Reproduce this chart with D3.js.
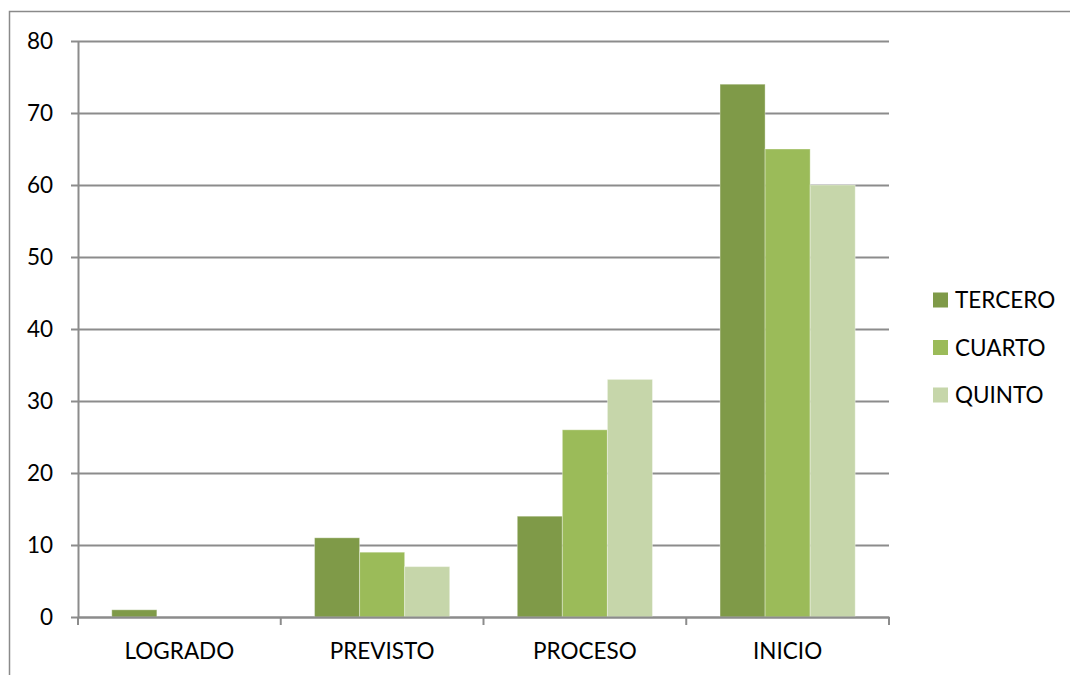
<!DOCTYPE html>
<html>
<head>
<meta charset="utf-8">
<script src="https://cdn.jsdelivr.net/npm/d3@7/dist/d3.min.js"></script>
<style>
  html, body { margin: 0; padding: 0; background: #fff; }
  svg { display: block; }
  text { font-family: Lato, "Liberation Sans", sans-serif; fill: #000; }
</style>
</head>
<body>
<svg id="chart" width="1070" height="675"></svg>
<script>
// Categories, series and ticks
const categories = ["LOGRADO", "PREVISTO", "PROCESO", "INICIO"];
const seriesNames = ["TERCERO", "CUARTO", "QUINTO"];
const tercero = [1, 11, 14, 74];
const cuarto = [0, 9, 26, 65];
const quinto = [0, 7, 33, 60];
const yTicks = [0, 10, 20, 30, 40, 50, 60, 70, 80];
const colors = ["#7F9A48", "#9BBB59", "#C6D6AA"];

const seriesValues = [tercero, cuarto, quinto];
const rows = categories.map((c, i) => ({
  category: c,
  values: seriesNames.map((s, j) => ({ series: s, value: seriesValues[j][i] }))
}));

const svg = d3.select("#chart");
const margin = { left: 78, right: 181, top: 41, bottom: 58 };
const W = 1070, H = 675;
const plotW = W - margin.left - margin.right;
const plotH = H - margin.top - margin.bottom;

// Outer chart frame (extends past the right and bottom edges)
svg.append("rect")
  .attr("x", 9.5).attr("y", 11.5)
  .attr("width", 1100).attr("height", 700)
  .attr("fill", "none").attr("stroke", "#8a8a8a").attr("stroke-width", 1.5);

const g = svg.append("g").attr("transform", `translate(${margin.left},${margin.top})`);

const x0 = d3.scaleBand().domain(categories).range([0, plotW]).paddingInner(0).paddingOuter(0);
// gap width 150% between clusters => 0.75 bar width padding on each side
const barW = x0.bandwidth() / 4.5;
const x1 = d3.scaleBand().domain(seriesNames)
  .range([0.75 * barW, x0.bandwidth() - 0.75 * barW]).padding(0);
const y = d3.scaleLinear().domain([0, 80]).range([plotH, 0]);

// Horizontal gridlines with tick marks
const yAxis = d3.axisLeft(y).tickValues(yTicks).tickSize(-plotW).tickSizeOuter(0).tickPadding(25);
const yg = g.append("g").call(yAxis);
yg.select(".domain").remove();
yg.selectAll(".tick line")
  .attr("x1", -7)
  .attr("stroke", "#8c8c8c").attr("stroke-width", 2);
yg.selectAll(".tick text").attr("font-size", 22.5);

// Bars
const groups = g.selectAll(".cat").data(rows).join("g")
  .attr("class", "cat")
  .attr("transform", d => `translate(${x0(d.category)},0)`);
groups.selectAll("rect").data(d => d.values).join("rect")
  .attr("x", d => x1(d.series))
  .attr("y", d => y(d.value))
  .attr("width", x1.bandwidth())
  .attr("height", d => plotH - y(d.value))
  .attr("fill", (d, i) => colors[i])
  .attr("stroke", "rgba(255,255,255,0.35)")
  .attr("stroke-width", 1);

// Value axis line
g.append("line")
  .attr("x1", 0.5).attr("x2", 0.5).attr("y1", 0).attr("y2", plotH)
  .attr("stroke", "#8c8c8c").attr("stroke-width", 2);

// Category axis
const xAxis = d3.axisBottom(x0).tickSize(0).tickPadding(26);
const xg = g.append("g").attr("transform", `translate(0,${plotH})`).call(xAxis);
xg.select(".domain").attr("stroke", "#8c8c8c").attr("stroke-width", 2);
xg.selectAll(".tick text").attr("font-size", 22.5);
const boundaries = categories.map(c => x0(c)).concat([plotW]);
xg.selectAll(".boundary").data(boundaries).join("line")
  .attr("class", "boundary")
  .attr("x1", d => d).attr("x2", d => d)
  .attr("y1", 0).attr("y2", 8)
  .attr("stroke", "#8c8c8c").attr("stroke-width", 2);

// Legend
const legend = svg.append("g").attr("transform", "translate(933,300)");
const items = legend.selectAll("g").data(seriesNames).join("g")
  .attr("transform", (d, i) => `translate(0,${i * 47.5})`);
items.append("rect")
  .attr("x", 0).attr("y", -7.5).attr("width", 15).attr("height", 15)
  .attr("fill", (d, i) => colors[i]);
items.append("text")
  .attr("x", 22).attr("y", 0).attr("dy", "0.36em")
  .attr("font-size", 22.5)
  .text(d => d);
</script>
</body>
</html>
